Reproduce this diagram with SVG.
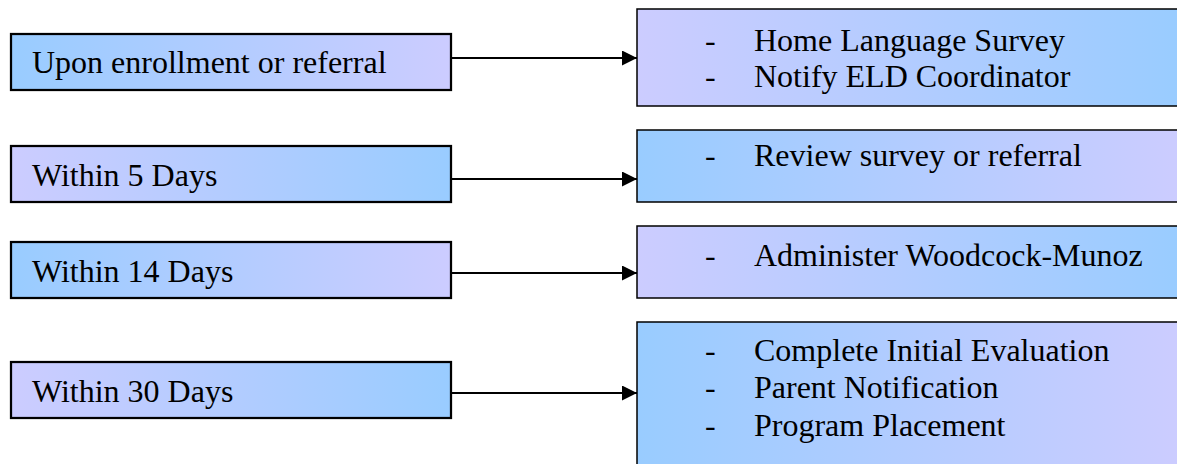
<svg xmlns="http://www.w3.org/2000/svg" width="1177" height="464" viewBox="0 0 1177 464">
  <defs>
    <linearGradient id="blueToLav" x1="0" y1="0" x2="1" y2="0">
      <stop offset="0" stop-color="#99CCFF"/>
      <stop offset="1" stop-color="#CCCCFF"/>
    </linearGradient>
    <linearGradient id="lavToBlue" x1="0" y1="0" x2="1" y2="0">
      <stop offset="0" stop-color="#CCCCFF"/>
      <stop offset="1" stop-color="#99CCFF"/>
    </linearGradient>
    <marker id="arrow" viewBox="0 0 15 15" refX="15" refY="7.5" markerWidth="15" markerHeight="15" markerUnits="userSpaceOnUse" orient="auto">
      <path d="M0,0 L15,7.5 L0,15 Z" fill="#000"/>
    </marker>
  </defs>
  <style>
    .step { stroke: #000; stroke-width: 2.25; }
    .task { stroke: #000; stroke-width: 1.5; }
    text { font-family: "Liberation Serif", "Times New Roman", serif; font-size: 32px; fill: #000; }
    .link { stroke: #000; stroke-width: 2; fill: none; marker-end: url(#arrow); }
  </style>

  <!-- timeline steps (left column) -->
  <g id="step-enrollment">
    <rect class="step" x="11" y="34" width="440" height="56" fill="url(#blueToLav)"/>
    <text x="32" y="73">Upon enrollment or referral</text>
  </g>
  <g id="step-5-days">
    <rect class="step" x="11" y="146" width="440" height="56" fill="url(#lavToBlue)"/>
    <text x="32" y="186">Within 5 Days</text>
  </g>
  <g id="step-14-days">
    <rect class="step" x="11" y="242" width="440" height="56" fill="url(#blueToLav)"/>
    <text x="32" y="282">Within 14 Days</text>
  </g>
  <g id="step-30-days">
    <rect class="step" x="11" y="362" width="440" height="56" fill="url(#lavToBlue)"/>
    <text x="32" y="402">Within 30 Days</text>
  </g>

  <!-- actions (right column) -->
  <g id="task-survey">
    <rect class="task" x="637" y="9" width="545" height="97" fill="url(#lavToBlue)"/>
    <text x="705" y="51">-</text>
    <text x="754" y="51">Home Language Survey</text>
    <text x="705" y="87">-</text>
    <text x="754" y="87">Notify ELD Coordinator</text>
  </g>
  <g id="task-review">
    <rect class="task" x="637" y="130" width="545" height="72" fill="url(#blueToLav)"/>
    <text x="705" y="166">-</text>
    <text x="754" y="166">Review survey or referral</text>
  </g>
  <g id="task-woodcock">
    <rect class="task" x="637" y="226" width="545" height="72" fill="url(#lavToBlue)"/>
    <text x="705" y="266">-</text>
    <text x="754" y="266">Administer Woodcock-Munoz</text>
  </g>
  <g id="task-evaluation">
    <rect class="task" x="637" y="322" width="545" height="150" fill="url(#blueToLav)"/>
    <text x="705" y="361">-</text>
    <text x="754" y="361">Complete Initial Evaluation</text>
    <text x="705" y="398">-</text>
    <text x="754" y="398">Parent Notification</text>
    <text x="705" y="436">-</text>
    <text x="754" y="436">Program Placement</text>
  </g>

  <!-- connectors -->
  <g id="connectors">
    <line class="link" x1="452" y1="58" x2="637" y2="58"/>
    <line class="link" x1="452" y1="179" x2="637" y2="179"/>
    <line class="link" x1="452" y1="273" x2="637" y2="273"/>
    <line class="link" x1="452" y1="393" x2="637" y2="393"/>
  </g>
</svg>
